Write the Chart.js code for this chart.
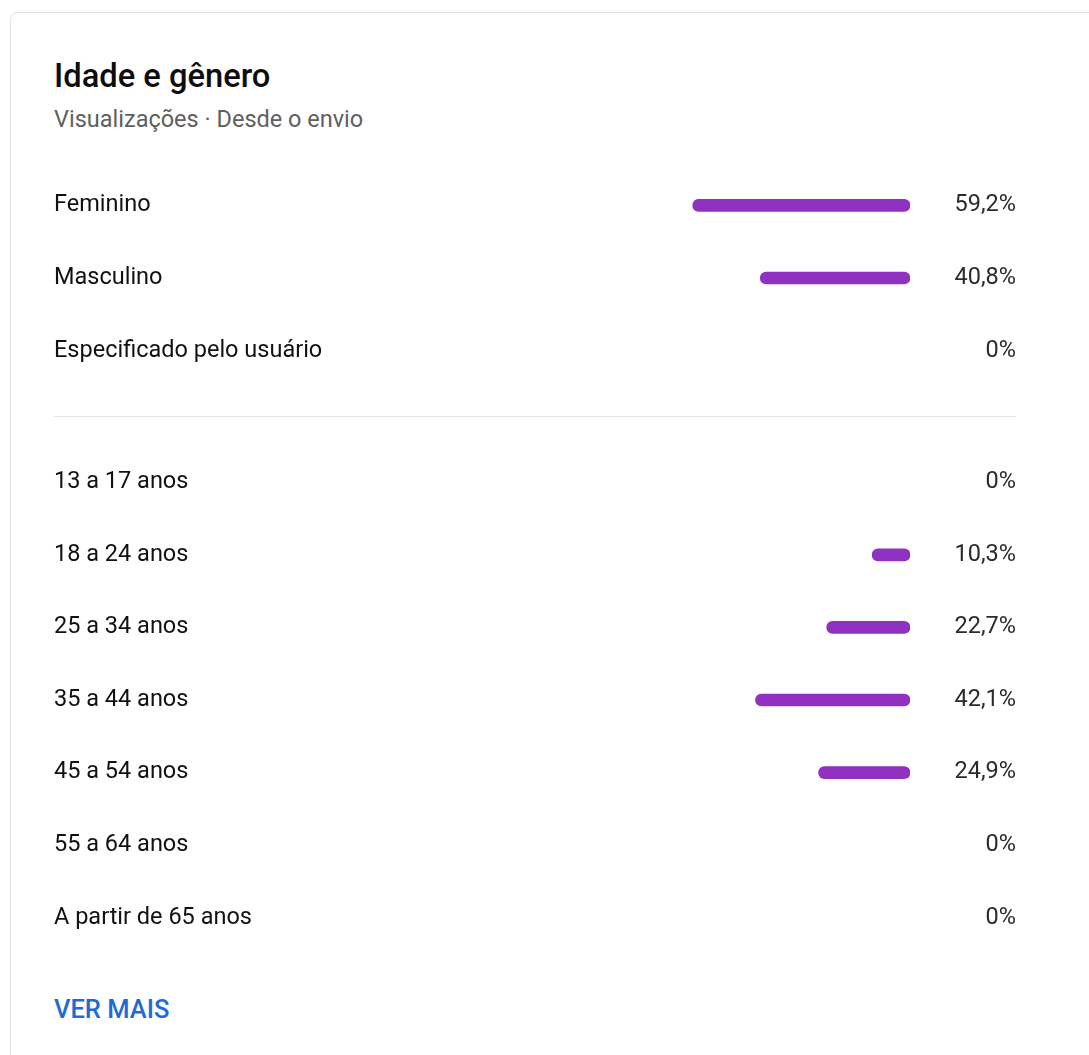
<!DOCTYPE html>
<html lang="pt-BR">
<head>
<meta charset="utf-8">
<title>Idade e gênero</title>
<script src="https://cdn.jsdelivr.net/npm/chart.js@4"></script>
<style>
  body { margin: 0; background: #fff; font-family: Roboto, "Noto Sans", sans-serif; }
  .card {
    position: absolute; left: 10px; top: 12px; width: 1100px; height: 1100px;
    border: 1px solid #e3e3e3; border-radius: 8px; box-sizing: border-box;
  }
  .title { position: absolute; left: 54px; top: 57px; font-size: 32.7px; font-weight: 500; color: #0d0d0d; }
  .subtitle { position: absolute; left: 54px; top: 105px; font-size: 23.5px; color: #606060; }
  .divider { position: absolute; left: 54px; top: 416px; width: 962px; height: 1px; background: #e5e5e5; }
  .more { position: absolute; left: 54px; top: 994px; font-size: 25.5px; font-weight: 500; color: #1f6ad6; }
  canvas { position: absolute; left: 54px; }
</style>
</head>
<body>
<div class="card"></div>
<div class="title">Idade e gênero</div>
<div class="subtitle">Visualizações · Desde o envio</div>
<canvas id="genderChart" width="962" height="218" style="top:169px"></canvas>
<div class="divider"></div>
<canvas id="ageChart" width="962" height="508" style="top:446px"></canvas>
<div class="more">VER MAIS</div>

<script>
var genderLabels = ['Feminino', 'Masculino', 'Especificado pelo usuário'];
var genderValues = [59.2, 40.8, 0];

var ageLabels = ['13 a 17 anos', '18 a 24 anos', '25 a 34 anos', '35 a 44 anos', '45 a 54 anos', '55 a 64 anos', 'A partir de 65 anos'];
var ageValues = [0, 10.3, 22.7, 42.1, 24.9, 0, 0];

var barColor = '#9031c1';

function pct(v) {
    return v === 0 ? '0%' : v.toFixed(1).replace('.', ',') + '%';
}

// writes each bar's percentage at the right edge of the canvas
var percentLabels = {
    id: 'percentLabels',
    afterDatasetsDraw: function (chart) {
        var ctx = chart.ctx;
        var meta = chart.getDatasetMeta(0);
        var values = chart.data.datasets[0].data;
        ctx.save();
        ctx.font = '23.5px Roboto';
        ctx.fillStyle = '#2b2b2b';
        ctx.textAlign = 'right';
        ctx.textBaseline = 'middle';
        meta.data.forEach(function (bar, i) {
            ctx.fillText(pct(values[i]), chart.width, bar.y);
        });
        ctx.restore();
    }
};

function makeChart(id, labels, values) {
    return new Chart(document.getElementById(id), {
        type: 'bar',
        data: {
            labels: labels,
            datasets: [{
                data: values,
                // empty rows get no pill at all
                backgroundColor: function (c) { return c.raw === 0 ? 'rgba(0,0,0,0)' : barColor; },
                barThickness: 12,
                borderRadius: 6,
                borderSkipped: false
            }]
        },
        options: {
            indexAxis: 'y',
            responsive: false,
            animation: false,
            devicePixelRatio: 1,
            layout: { padding: { left: 0, right: 106, top: 0, bottom: 0 } },
            plugins: { legend: { display: false }, tooltip: { enabled: false } },
            scales: {
                x: { min: 0, max: 100, reverse: true, display: false },
                y: {
                    grid: { display: false },
                    border: { display: false },
                    ticks: {
                        crossAlign: 'far',
                        padding: 0,
                        color: '#111',
                        font: { family: 'Roboto', size: 23.5 }
                    },
                    afterFit: function (scale) {
                        scale.width = 489;
                        scale.paddingTop = 0;
                        scale.paddingBottom = 0;
                    }
                }
            }
        },
        plugins: [percentLabels]
    });
}

makeChart('genderChart', genderLabels, genderValues);
makeChart('ageChart', ageLabels, ageValues);
</script>
</body>
</html>
